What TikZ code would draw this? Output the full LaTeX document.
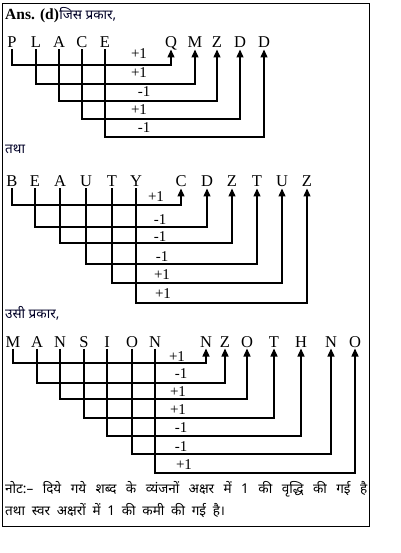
\documentclass[tikz,border=0pt]{standalone}
\usepackage{fontspec}
\setmainfont{Liberation Serif}
\newfontfamily\hindi[Script=Devanagari]{Noto Sans}
\usetikzlibrary{arrows.meta}

\begin{document}
\begin{tikzpicture}[x=1pt, y=-1pt, letter/.style={anchor=base, inner sep=0pt, outer sep=1.5pt, text depth=0pt, font=\fontsize{16.5}{19}\selectfont}, sign/.style={inner sep=0pt, font=\fontsize{15}{17}\selectfont}, head/.style={anchor=base west, inner sep=0pt, font=\hindi\fontsize{13.5}{16}\selectfont, text=black!85!blue}, arrow/.style={-{Triangle[length=8pt,width=7pt]}, line width=1.4pt}]
        \useasboundingbox (0,0) rectangle (400,553);
        \draw[line width=1pt] (2,4) rectangle (369,526);
        % heading
        \node[anchor=base west, inner sep=0pt] (ans) at (5,20) {\fontsize{15.5}{18}\selectfont\bfseries Ans. (d)};
        \node[head, anchor=base west] (h1) at (ans.base east) {जिस प्रकार,};
        % PLACE -> QMZDD
        \node[letter] (p1) at (12,48) {P};
        \node[letter] (p2) at (36,48) {L};
        \node[letter] (p3) at (59,48) {A};
        \node[letter] (p4) at (82,48) {C};
        \node[letter] (p5) at (105,48) {E};
        \node[letter] (q1) at (171,48) {Q};
        \node[letter] (q2) at (195,48) {M};
        \node[letter] (q3) at (217,48) {Z};
        \node[letter] (q4) at (240,48) {D};
        \node[letter] (q5) at (264,48) {D};
        \draw[arrow] (p1) -- (p1 |- 0,65) -| (q1);
        \draw[arrow] (p2) -- (p2 |- 0,84) -| (q2);
        \draw[arrow] (p3) -- (p3 |- 0,101) -| (q3);
        \draw[arrow] (p4) -- (p4 |- 0,119) -| (q4);
        \draw[arrow] (p5) -- (p5 |- 0,137) -| (q5);
        \node[sign] (a1) at (139,54) {+1};
        \node[sign] (a2) at (139,73) {+1};
        \node[sign] (a3) at (144,92) {-1};
        \node[sign] (a4) at (139,110) {+1};
        \node[sign] (a5) at (144,128) {-1};
        % BEAUTY -> CDZTUZ
        \node[head] (h2) at (5,154) {तथा};
        \node[letter] (b1) at (12,187) {B};
        \node[letter] (b2) at (35,187) {E};
        \node[letter] (b3) at (60,187) {A};
        \node[letter] (b4) at (86,187) {U};
        \node[letter] (b5) at (112,187) {T};
        \node[letter] (b6) at (136,187) {Y};
        \node[letter] (c1) at (181,187) {C};
        \node[letter] (c2) at (207,187) {D};
        \node[letter] (c3) at (232,187) {Z};
        \node[letter] (c4) at (257,187) {T};
        \node[letter] (c5) at (282,187) {U};
        \node[letter] (c6) at (307,187) {Z};
        \draw[arrow] (b1) -- (b1 |- 0,205) -| (c1);
        \draw[arrow] (b2) -- (b2 |- 0,227) -| (c2);
        \draw[arrow] (b3) -- (b3 |- 0,243) -| (c3);
        \draw[arrow] (b4) -- (b4 |- 0,264) -| (c4);
        \draw[arrow] (b5) -- (b5 |- 0,283) -| (c5);
        \draw[arrow] (b6) -- (b6 |- 0,303) -| (c6);
        \node[sign] (d1) at (156,197) {+1};
        \node[sign] (d2) at (160,220) {-1};
        \node[sign] (d3) at (160,237) {-1};
        \node[sign] (d4) at (162,257) {-1};
        \node[sign] (d5) at (162,275) {+1};
        \node[sign] (d6) at (163,294) {+1};
        % MANSION -> NZOTHNO
        \node[head] (h3) at (5,318) {उसी प्रकार,};
        \node[letter] (m1) at (13,347) {M};
        \node[letter] (m2) at (37,347) {A};
        \node[letter] (m3) at (60,347) {N};
        \node[letter] (m4) at (84,347) {S};
        \node[letter] (m5) at (107,347) {I};
        \node[letter] (m6) at (132,347) {O};
        \node[letter] (m7) at (155,347) {N};
        \node[letter] (n1) at (206,347) {N};
        \node[letter] (n2) at (225,347) {Z};
        \node[letter] (n3) at (247,347) {O};
        \node[letter] (n4) at (274,347) {T};
        \node[letter] (n5) at (301,347) {H};
        \node[letter] (n6) at (331,347) {N};
        \node[letter] (n7) at (355,347) {O};
        \draw[arrow] (m1) -- (m1 |- 0,363) -| (n1);
        \draw[arrow] (m2) -- (m2 |- 0,383) -| (n2);
        \draw[arrow] (m3) -- (m3 |- 0,399) -| (n3);
        \draw[arrow] (m4) -- (m4 |- 0,418) -| (n4);
        \draw[arrow] (m5) -- (m5 |- 0,436) -| (n5);
        \draw[arrow] (m6) -- (m6 |- 0,454) -| (n6);
        \draw[arrow] (m7) -- (m7 |- 0,473) -| (n7);
        \node[sign] (e1) at (177,357) {+1};
        \node[sign] (e2) at (181,374) {-1};
        \node[sign] (e3) at (178,392) {+1};
        \node[sign] (e4) at (178,410) {+1};
        \node[sign] (e5) at (181,428) {-1};
        \node[sign] (e6) at (181,447) {-1};
        \node[sign] (e7) at (184,465) {+1};
        % note
        \node[anchor=north west, inner sep=0pt, text width=362pt, align=justify, font=\hindi\fontsize{13.5}{22}\selectfont] (note) at (5,481) {\spaceskip=0.5em plus 1em\relax नोट:– दिये गये शब्द के व्यंजनों अक्षर में 1 की वृद्धि की गई है\linebreak तथा स्वर अक्षरों में 1 की कमी की गई है।};
    \end{tikzpicture}
\end{document}
